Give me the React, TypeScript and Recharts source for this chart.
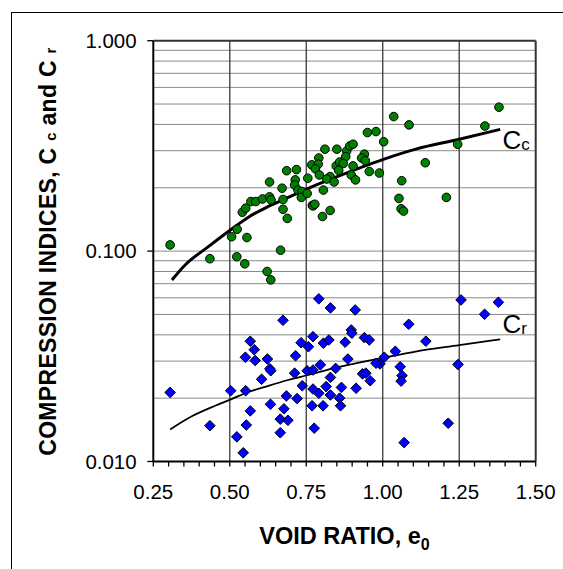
import React from 'react';
import { ScatterChart, Scatter, XAxis, YAxis, CartesianGrid, ReferenceLine } from 'recharts';

// ---- data ----
const ccPoints = [
  [0.305, 0.107], [0.435, 0.092], [0.523, 0.094], [0.549, 0.087], [0.506, 0.117], [0.524, 0.127],
  [0.556, 0.116], [0.666, 0.101], [0.541, 0.153], [0.552, 0.160], [0.569, 0.172], [0.585, 0.172],
  [0.607, 0.177], [0.630, 0.181], [0.635, 0.175], [0.630, 0.213], [0.671, 0.199], [0.674, 0.176],
  [0.674, 0.158], [0.688, 0.143], [0.686, 0.241], [0.718, 0.244], [0.714, 0.218], [0.712, 0.206],
  [0.723, 0.195], [0.736, 0.192], [0.734, 0.180], [0.755, 0.222], [0.768, 0.257], [0.770, 0.165],
  [0.753, 0.188], [0.791, 0.277], [0.789, 0.259], [0.780, 0.246], [0.793, 0.230], [0.772, 0.164],
  [0.778, 0.167], [0.803, 0.146], [0.828, 0.156], [0.806, 0.195], [0.811, 0.305], [0.850, 0.305],
  [0.882, 0.299], [0.892, 0.316], [0.903, 0.322], [0.879, 0.281], [0.848, 0.254], [0.859, 0.265],
  [0.871, 0.261], [0.856, 0.242], [0.828, 0.226], [0.817, 0.220], [0.841, 0.213], [0.903, 0.254],
  [0.897, 0.230], [0.911, 0.218], [0.940, 0.289], [0.931, 0.277], [0.943, 0.269], [0.950, 0.366],
  [0.978, 0.370], [0.956, 0.239], [0.989, 0.235], [1.003, 0.331], [1.036, 0.436], [1.086, 0.398],
  [1.139, 0.263], [1.062, 0.216], [1.053, 0.178], [1.060, 0.159], [1.068, 0.155], [1.208, 0.180],
  [1.245, 0.322], [1.334, 0.393], [1.380, 0.483], [0.622, 0.080], [0.634, 0.073],
];

const crPoints = [
  [0.305, 0.0213], [0.435, 0.0148], [0.503, 0.0217], [0.523, 0.0131], [0.544, 0.0110], [0.552, 0.0217],
  [0.554, 0.0149], [0.567, 0.0174], [0.551, 0.0313], [0.567, 0.0373], [0.580, 0.0340], [0.583, 0.0302],
  [0.604, 0.0246], [0.623, 0.0307], [0.631, 0.0276], [0.634, 0.0270], [0.633, 0.0187], [0.674, 0.0469],
  [0.665, 0.0159], [0.677, 0.0178], [0.685, 0.0205], [0.690, 0.0157], [0.665, 0.0137], [0.712, 0.0263],
  [0.715, 0.0318], [0.720, 0.0199], [0.737, 0.0229], [0.733, 0.0367], [0.757, 0.0351], [0.753, 0.0270],
  [0.772, 0.0392], [0.772, 0.0272], [0.772, 0.0221], [0.769, 0.0184], [0.776, 0.0144], [0.791, 0.0593],
  [0.829, 0.0537], [0.910, 0.0525], [0.806, 0.0365], [0.824, 0.0378], [0.877, 0.0369], [0.897, 0.0422],
  [0.899, 0.0407], [0.940, 0.0388], [0.956, 0.0378], [1.085, 0.0449], [1.141, 0.0373], [1.041, 0.0334],
  [1.005, 0.0313], [0.991, 0.0291], [0.978, 0.0293], [0.886, 0.0307], [0.846, 0.0277], [0.796, 0.0288],
  [0.829, 0.0251], [0.934, 0.0261], [0.945, 0.0263], [0.959, 0.0242], [1.057, 0.0282], [1.063, 0.0256],
  [1.060, 0.0241], [1.246, 0.0289], [1.256, 0.0586], [1.333, 0.0501], [1.378, 0.0571], [1.214, 0.0152],
  [1.070, 0.0123], [0.791, 0.0211], [0.815, 0.0227], [0.829, 0.0207], [0.865, 0.0225], [0.913, 0.0223],
  [0.859, 0.0200], [0.862, 0.0184], [0.805, 0.0184],
];

const ccCurve = [
  [0.311, 0.0729], [0.354, 0.0859], [0.430, 0.105], [0.502, 0.126], [0.561, 0.145], [0.626, 0.163],
  [0.691, 0.180], [0.751, 0.197], [0.838, 0.222], [1.002, 0.273], [1.111, 0.306], [1.250, 0.340],
  [1.384, 0.379],
];

const crCurve = [
  [0.305, 0.0142], [0.376, 0.0164], [0.452, 0.0184], [0.502, 0.0197], [0.561, 0.0214], [0.626, 0.0229],
  [0.691, 0.0244], [0.751, 0.0257], [0.838, 0.0277], [1.002, 0.0311], [1.111, 0.0334], [1.250, 0.0357],
  [1.384, 0.0381],
];

const xTicks = [0.25, 0.3, 0.35, 0.4, 0.45, 0.5, 0.55, 0.6, 0.65, 0.7, 0.75, 0.8, 0.85, 0.9, 0.95,
  1.0, 1.05, 1.1, 1.15, 1.2, 1.25, 1.3, 1.35, 1.4, 1.45, 1.5];
const xLabelTicks = [0.25, 0.5, 0.75, 1.0, 1.25, 1.5];
const yTicks = [0.01, 0.1, 1];
const yGridValues = [0.02, 0.03, 0.04, 0.05, 0.06, 0.07, 0.08, 0.09, 0.1, 0.2, 0.3, 0.4, 0.5, 0.6, 0.7, 0.8, 0.9];
const xGridValues = [0.5, 0.75, 1.0, 1.25];

const toXY = (arr: number[][]) => arr.map(([x, y]) => ({ x, y }));

const FONT = '"Liberation Sans", Arial, sans-serif';

const Circle = (p: any) => (
  <circle cx={p.cx} cy={p.cy} r={4.3} fill="#008000" stroke="#000" strokeWidth={1} />
);
const Diamond = (p: any) => {
  const r = 5.3;
  return (
    <polygon
      points={`${p.cx},${p.cy - r} ${p.cx + r},${p.cy} ${p.cx},${p.cy + r} ${p.cx - r},${p.cy}`}
      fill="#0000FF"
      stroke="#000"
      strokeWidth={1}
    />
  );
};
const NoShape = () => <g />;

export default function App() {
  const W = 563;
  const H = 569;
  const left = 153.3;
  const right = 535.7;
  const top = 40.7;
  const bottom = 461.5;
  return (
    <div style={{ position: 'absolute', left: 0, top: 0, width: W, height: H, background: '#fff' }}>
      <ScatterChart
        width={W}
        height={H}
        margin={{ top, right: W - right, bottom: 0, left: 0 }}
        style={{ position: 'absolute', left: 0, top: 0 }}
      >
        <CartesianGrid horizontal={true} vertical={false} horizontalValues={yGridValues} stroke="#8a8a8a" strokeWidth={1} />
        <CartesianGrid horizontal={false} vertical={true} verticalValues={xGridValues} stroke="#3a3a3a" strokeWidth={1.3} />
        <XAxis
          type="number"
          dataKey="x"
          domain={[0.25, 1.5]}
          ticks={xTicks}
          interval={0}
          allowDataOverflow
          height={H - bottom}
          tickSize={5}
          tickMargin={17.5}
          tickFormatter={(v: number) => (xLabelTicks.some((t) => Math.abs(t - v) < 1e-6) ? v.toFixed(2) : '')}
          tick={{ fontSize: 20.5, fontFamily: FONT, fill: '#000' }}
          tickLine={{ stroke: '#000', strokeWidth: 1.3 }}
          axisLine={{ stroke: '#000', strokeWidth: 1.8 }}
        />
        <YAxis
          type="number"
          dataKey="y"
          scale="log"
          domain={[0.01, 1]}
          ticks={yTicks}
          interval={0}
          allowDataOverflow
          width={left}
          tickSize={6}
          tickMargin={10.6}
          tickFormatter={(v: number) => v.toFixed(3)}
          tick={{ fontSize: 20.5, fontFamily: FONT, fill: '#000' }}
          tickLine={{ stroke: '#000', strokeWidth: 1.3 }}
          axisLine={{ stroke: '#000', strokeWidth: 2 }}
        />
        <ReferenceLine y={1} stroke="#333" strokeWidth={2} />
        <ReferenceLine x={1.5} stroke="#333" strokeWidth={2} />
        <Scatter data={toXY(ccCurve)} line={{ stroke: '#000', strokeWidth: 3 }} lineJointType="monotoneX" shape={NoShape} isAnimationActive={false} />
        <Scatter data={toXY(crCurve)} line={{ stroke: '#000', strokeWidth: 1.8 }} lineJointType="monotoneX" shape={NoShape} isAnimationActive={false} />
        <Scatter data={toXY(ccPoints)} shape={Circle} isAnimationActive={false} />
        <Scatter data={toXY(crPoints)} shape={Diamond} isAnimationActive={false} />
      </ScatterChart>
      <svg width={W} height={H} style={{ position: 'absolute', left: 0, top: 0, pointerEvents: 'none' }}>
        <rect x={11.5} y={12.5} width={700} height={700} fill="none" stroke="#000" strokeWidth={1} />
        <text
          transform="translate(55.5,251.5) rotate(-90)"
          textAnchor="middle"
          fontFamily={FONT}
          fontWeight="bold"
          fontSize={23}
          letterSpacing={0.3}
          fill="#000"
        >
          COMPRESSION INDICES, C <tspan fontSize={15}>c</tspan> and C <tspan fontSize={15}>r</tspan>
        </text>
        <text x={344.5} y={544} textAnchor="middle" fontFamily={FONT} fontWeight="bold" fontSize={23.5} fill="#000">
          VOID RATIO, e<tspan fontSize={16} dy={6}>0</tspan>
        </text>
        <text x={502.5} y={149} fontFamily={FONT} fontSize={26} fill="#000">
          C<tspan fontSize={17} dy={1}>c</tspan>
        </text>
        <text x={502.5} y={333} fontFamily={FONT} fontSize={26} fill="#000">
          C<tspan fontSize={17} dy={1}>r</tspan>
        </text>
      </svg>
    </div>
  );
}
